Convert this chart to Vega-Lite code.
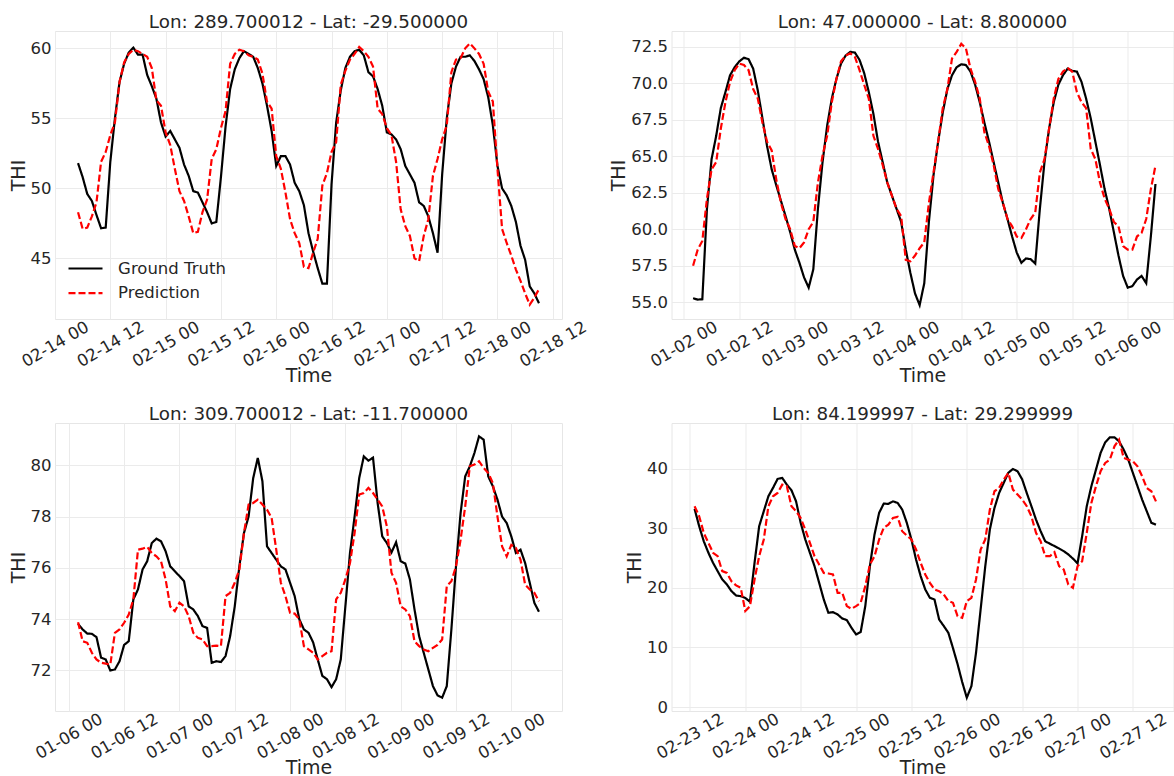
{
"$schema": "https://vega.github.io/schema/vega-lite/v6.json",
"background": "white",
"padding": {"left": 8, "top": 12, "right": 0, "bottom": 0},
"autosize": {"type": "pad"},
"columns": 2,
"spacing": {"row": 104, "column": 109.5},
"bounds": "flush",
"resolve": {"scale": {"color": "independent", "strokeDash": "independent", "x": "independent", "y": "independent"}, "legend": {"color": "independent", "strokeDash": "independent"}},
"datasets": {
"p1": [
{"t":"2020-02-14T05:00","Ground Truth":51.8,"Prediction":48.3},
{"t":"2020-02-14T06:00","Ground Truth":50.8,"Prediction":47.1},
{"t":"2020-02-14T07:00","Ground Truth":49.6,"Prediction":47.2},
{"t":"2020-02-14T08:00","Ground Truth":49.1,"Prediction":48.0},
{"t":"2020-02-14T09:00","Ground Truth":48.1,"Prediction":49.0},
{"t":"2020-02-14T10:00","Ground Truth":47.15,"Prediction":51.9},
{"t":"2020-02-14T11:00","Ground Truth":47.2,"Prediction":52.6},
{"t":"2020-02-14T12:00","Ground Truth":51.9,"Prediction":53.8},
{"t":"2020-02-14T13:00","Ground Truth":55.0,"Prediction":54.7},
{"t":"2020-02-14T14:00","Ground Truth":57.6,"Prediction":57.6},
{"t":"2020-02-14T15:00","Ground Truth":58.9,"Prediction":59.0},
{"t":"2020-02-14T16:00","Ground Truth":59.7,"Prediction":59.6},
{"t":"2020-02-14T17:00","Ground Truth":60.05,"Prediction":59.9},
{"t":"2020-02-14T18:00","Ground Truth":59.55,"Prediction":59.8},
{"t":"2020-02-14T19:00","Ground Truth":59.55,"Prediction":59.6},
{"t":"2020-02-14T20:00","Ground Truth":58.1,"Prediction":59.4},
{"t":"2020-02-14T21:00","Ground Truth":57.3,"Prediction":58.6},
{"t":"2020-02-14T22:00","Ground Truth":56.4,"Prediction":56.3},
{"t":"2020-02-14T23:00","Ground Truth":54.7,"Prediction":55.9},
{"t":"2020-02-15T00:00","Ground Truth":53.7,"Prediction":54.0},
{"t":"2020-02-15T01:00","Ground Truth":54.1,"Prediction":53.1},
{"t":"2020-02-15T02:00","Ground Truth":53.5,"Prediction":51.4},
{"t":"2020-02-15T03:00","Ground Truth":52.9,"Prediction":49.8},
{"t":"2020-02-15T04:00","Ground Truth":51.7,"Prediction":49.1},
{"t":"2020-02-15T05:00","Ground Truth":50.9,"Prediction":48.0},
{"t":"2020-02-15T06:00","Ground Truth":49.8,"Prediction":46.8},
{"t":"2020-02-15T07:00","Ground Truth":49.7,"Prediction":46.9},
{"t":"2020-02-15T08:00","Ground Truth":49.0,"Prediction":48.3},
{"t":"2020-02-15T09:00","Ground Truth":48.3,"Prediction":49.2},
{"t":"2020-02-15T10:00","Ground Truth":47.5,"Prediction":52.1},
{"t":"2020-02-15T11:00","Ground Truth":47.6,"Prediction":52.8},
{"t":"2020-02-15T12:00","Ground Truth":50.8,"Prediction":54.3},
{"t":"2020-02-15T13:00","Ground Truth":54.4,"Prediction":55.5},
{"t":"2020-02-15T14:00","Ground Truth":57.1,"Prediction":58.9},
{"t":"2020-02-15T15:00","Ground Truth":58.5,"Prediction":59.6},
{"t":"2020-02-15T16:00","Ground Truth":59.3,"Prediction":59.9},
{"t":"2020-02-15T17:00","Ground Truth":59.8,"Prediction":59.8},
{"t":"2020-02-15T18:00","Ground Truth":59.6,"Prediction":59.5},
{"t":"2020-02-15T19:00","Ground Truth":59.4,"Prediction":59.4},
{"t":"2020-02-15T20:00","Ground Truth":58.6,"Prediction":59.2},
{"t":"2020-02-15T21:00","Ground Truth":57.5,"Prediction":58.2},
{"t":"2020-02-15T22:00","Ground Truth":55.9,"Prediction":56.2},
{"t":"2020-02-15T23:00","Ground Truth":54.1,"Prediction":55.7},
{"t":"2020-02-16T00:00","Ground Truth":51.6,"Prediction":52.3},
{"t":"2020-02-16T01:00","Ground Truth":52.3,"Prediction":51.4},
{"t":"2020-02-16T02:00","Ground Truth":52.3,"Prediction":49.7},
{"t":"2020-02-16T03:00","Ground Truth":51.7,"Prediction":47.8},
{"t":"2020-02-16T04:00","Ground Truth":50.4,"Prediction":46.8},
{"t":"2020-02-16T05:00","Ground Truth":49.8,"Prediction":46.1},
{"t":"2020-02-16T06:00","Ground Truth":48.8,"Prediction":44.4},
{"t":"2020-02-16T07:00","Ground Truth":46.8,"Prediction":44.3},
{"t":"2020-02-16T08:00","Ground Truth":45.5,"Prediction":45.4},
{"t":"2020-02-16T09:00","Ground Truth":44.3,"Prediction":46.4},
{"t":"2020-02-16T10:00","Ground Truth":43.2,"Prediction":50.2},
{"t":"2020-02-16T11:00","Ground Truth":43.2,"Prediction":51.1},
{"t":"2020-02-16T12:00","Ground Truth":50.3,"Prediction":52.6},
{"t":"2020-02-16T13:00","Ground Truth":54.7,"Prediction":53.3},
{"t":"2020-02-16T14:00","Ground Truth":57.0,"Prediction":57.4},
{"t":"2020-02-16T15:00","Ground Truth":58.6,"Prediction":58.4},
{"t":"2020-02-16T16:00","Ground Truth":59.4,"Prediction":59.2},
{"t":"2020-02-16T17:00","Ground Truth":59.8,"Prediction":59.6},
{"t":"2020-02-16T18:00","Ground Truth":59.9,"Prediction":60.1},
{"t":"2020-02-16T19:00","Ground Truth":59.5,"Prediction":59.8},
{"t":"2020-02-16T20:00","Ground Truth":58.3,"Prediction":59.4},
{"t":"2020-02-16T21:00","Ground Truth":58.0,"Prediction":58.7},
{"t":"2020-02-16T22:00","Ground Truth":57.1,"Prediction":55.7},
{"t":"2020-02-16T23:00","Ground Truth":55.9,"Prediction":55.3},
{"t":"2020-02-17T00:00","Ground Truth":54.0,"Prediction":54.3},
{"t":"2020-02-17T01:00","Ground Truth":53.85,"Prediction":53.8},
{"t":"2020-02-17T02:00","Ground Truth":53.5,"Prediction":51.9},
{"t":"2020-02-17T03:00","Ground Truth":52.8,"Prediction":48.5},
{"t":"2020-02-17T04:00","Ground Truth":51.6,"Prediction":47.3},
{"t":"2020-02-17T05:00","Ground Truth":51.0,"Prediction":46.6},
{"t":"2020-02-17T06:00","Ground Truth":50.4,"Prediction":45.0},
{"t":"2020-02-17T07:00","Ground Truth":49.0,"Prediction":44.8},
{"t":"2020-02-17T08:00","Ground Truth":48.75,"Prediction":46.6},
{"t":"2020-02-17T09:00","Ground Truth":48.0,"Prediction":47.8},
{"t":"2020-02-17T10:00","Ground Truth":46.8,"Prediction":50.9},
{"t":"2020-02-17T11:00","Ground Truth":45.4,"Prediction":52.1},
{"t":"2020-02-17T12:00","Ground Truth":51.0,"Prediction":53.5},
{"t":"2020-02-17T13:00","Ground Truth":55.0,"Prediction":54.5},
{"t":"2020-02-17T14:00","Ground Truth":57.5,"Prediction":58.3},
{"t":"2020-02-17T15:00","Ground Truth":58.7,"Prediction":59.2},
{"t":"2020-02-17T16:00","Ground Truth":59.4,"Prediction":59.3},
{"t":"2020-02-17T17:00","Ground Truth":59.4,"Prediction":60.0},
{"t":"2020-02-17T18:00","Ground Truth":59.5,"Prediction":60.35},
{"t":"2020-02-17T19:00","Ground Truth":59.1,"Prediction":60.0},
{"t":"2020-02-17T20:00","Ground Truth":58.5,"Prediction":59.6},
{"t":"2020-02-17T21:00","Ground Truth":57.8,"Prediction":58.9},
{"t":"2020-02-17T22:00","Ground Truth":56.5,"Prediction":56.9},
{"t":"2020-02-17T23:00","Ground Truth":54.5,"Prediction":56.2},
{"t":"2020-02-18T00:00","Ground Truth":51.6,"Prediction":51.4},
{"t":"2020-02-18T01:00","Ground Truth":50.0,"Prediction":47.1},
{"t":"2020-02-18T02:00","Ground Truth":49.5,"Prediction":46.1},
{"t":"2020-02-18T03:00","Ground Truth":48.75,"Prediction":45.2},
{"t":"2020-02-18T04:00","Ground Truth":47.6,"Prediction":44.2},
{"t":"2020-02-18T05:00","Ground Truth":45.9,"Prediction":43.4},
{"t":"2020-02-18T06:00","Ground Truth":44.9,"Prediction":42.5},
{"t":"2020-02-18T07:00","Ground Truth":43.0,"Prediction":41.7},
{"t":"2020-02-18T08:00","Ground Truth":42.5,"Prediction":42.2},
{"t":"2020-02-18T09:00","Ground Truth":41.8,"Prediction":42.8}
],
"p2": [
{"t":"2020-01-02T02:00","Ground Truth":55.27,"Prediction":57.5},
{"t":"2020-01-02T03:00","Ground Truth":55.18,"Prediction":58.6},
{"t":"2020-01-02T04:00","Ground Truth":55.2,"Prediction":59.2},
{"t":"2020-01-02T05:00","Ground Truth":61.4,"Prediction":62.1},
{"t":"2020-01-02T06:00","Ground Truth":64.8,"Prediction":64.1},
{"t":"2020-01-02T07:00","Ground Truth":66.4,"Prediction":64.6},
{"t":"2020-01-02T08:00","Ground Truth":68.3,"Prediction":66.9},
{"t":"2020-01-02T09:00","Ground Truth":69.4,"Prediction":68.7},
{"t":"2020-01-02T10:00","Ground Truth":70.55,"Prediction":70.1},
{"t":"2020-01-02T11:00","Ground Truth":71.1,"Prediction":70.9},
{"t":"2020-01-02T12:00","Ground Truth":71.5,"Prediction":71.35},
{"t":"2020-01-02T13:00","Ground Truth":71.75,"Prediction":71.25},
{"t":"2020-01-02T14:00","Ground Truth":71.65,"Prediction":70.9},
{"t":"2020-01-02T15:00","Ground Truth":71.0,"Prediction":69.6},
{"t":"2020-01-02T16:00","Ground Truth":69.5,"Prediction":68.95},
{"t":"2020-01-02T17:00","Ground Truth":67.6,"Prediction":67.3},
{"t":"2020-01-02T18:00","Ground Truth":65.7,"Prediction":66.0},
{"t":"2020-01-02T19:00","Ground Truth":64.1,"Prediction":65.4},
{"t":"2020-01-02T20:00","Ground Truth":63.0,"Prediction":63.4},
{"t":"2020-01-02T21:00","Ground Truth":61.95,"Prediction":61.8},
{"t":"2020-01-02T22:00","Ground Truth":60.9,"Prediction":60.7},
{"t":"2020-01-02T23:00","Ground Truth":59.8,"Prediction":60.0},
{"t":"2020-01-03T00:00","Ground Truth":58.6,"Prediction":58.85},
{"t":"2020-01-03T01:00","Ground Truth":57.7,"Prediction":58.7},
{"t":"2020-01-03T02:00","Ground Truth":56.7,"Prediction":59.1},
{"t":"2020-01-03T03:00","Ground Truth":56.0,"Prediction":60.0},
{"t":"2020-01-03T04:00","Ground Truth":57.25,"Prediction":60.5},
{"t":"2020-01-03T05:00","Ground Truth":61.4,"Prediction":63.2},
{"t":"2020-01-03T06:00","Ground Truth":64.6,"Prediction":65.05},
{"t":"2020-01-03T07:00","Ground Truth":67.1,"Prediction":66.4},
{"t":"2020-01-03T08:00","Ground Truth":68.95,"Prediction":68.7},
{"t":"2020-01-03T09:00","Ground Truth":70.3,"Prediction":70.3},
{"t":"2020-01-03T10:00","Ground Truth":71.35,"Prediction":71.5},
{"t":"2020-01-03T11:00","Ground Truth":71.9,"Prediction":71.9},
{"t":"2020-01-03T12:00","Ground Truth":72.15,"Prediction":72.05},
{"t":"2020-01-03T13:00","Ground Truth":72.1,"Prediction":71.8},
{"t":"2020-01-03T14:00","Ground Truth":71.6,"Prediction":70.9},
{"t":"2020-01-03T15:00","Ground Truth":70.7,"Prediction":69.9},
{"t":"2020-01-03T16:00","Ground Truth":69.4,"Prediction":68.95},
{"t":"2020-01-03T17:00","Ground Truth":67.9,"Prediction":66.4},
{"t":"2020-01-03T18:00","Ground Truth":66.0,"Prediction":65.5},
{"t":"2020-01-03T19:00","Ground Truth":64.6,"Prediction":64.4},
{"t":"2020-01-03T20:00","Ground Truth":63.2,"Prediction":63.2},
{"t":"2020-01-03T21:00","Ground Truth":62.3,"Prediction":62.3},
{"t":"2020-01-03T22:00","Ground Truth":61.4,"Prediction":61.4},
{"t":"2020-01-03T23:00","Ground Truth":60.5,"Prediction":60.9},
{"t":"2020-01-04T00:00","Ground Truth":58.6,"Prediction":57.9},
{"t":"2020-01-04T01:00","Ground Truth":57.0,"Prediction":57.8},
{"t":"2020-01-04T02:00","Ground Truth":55.6,"Prediction":58.2},
{"t":"2020-01-04T03:00","Ground Truth":54.8,"Prediction":58.7},
{"t":"2020-01-04T04:00","Ground Truth":56.3,"Prediction":59.1},
{"t":"2020-01-04T05:00","Ground Truth":60.5,"Prediction":61.8},
{"t":"2020-01-04T06:00","Ground Truth":63.7,"Prediction":63.9},
{"t":"2020-01-04T07:00","Ground Truth":66.0,"Prediction":66.0},
{"t":"2020-01-04T08:00","Ground Truth":68.0,"Prediction":68.3},
{"t":"2020-01-04T09:00","Ground Truth":69.6,"Prediction":69.6},
{"t":"2020-01-04T10:00","Ground Truth":70.55,"Prediction":71.7},
{"t":"2020-01-04T11:00","Ground Truth":71.1,"Prediction":72.15},
{"t":"2020-01-04T12:00","Ground Truth":71.3,"Prediction":72.7},
{"t":"2020-01-04T13:00","Ground Truth":71.25,"Prediction":72.4},
{"t":"2020-01-04T14:00","Ground Truth":70.8,"Prediction":71.0},
{"t":"2020-01-04T15:00","Ground Truth":69.9,"Prediction":70.1},
{"t":"2020-01-04T16:00","Ground Truth":68.7,"Prediction":68.95},
{"t":"2020-01-04T17:00","Ground Truth":67.3,"Prediction":66.65},
{"t":"2020-01-04T18:00","Ground Truth":66.0,"Prediction":65.7},
{"t":"2020-01-04T19:00","Ground Truth":64.6,"Prediction":64.4},
{"t":"2020-01-04T20:00","Ground Truth":63.2,"Prediction":62.75},
{"t":"2020-01-04T21:00","Ground Truth":61.8,"Prediction":61.8},
{"t":"2020-01-04T22:00","Ground Truth":60.7,"Prediction":60.7},
{"t":"2020-01-04T23:00","Ground Truth":59.5,"Prediction":60.2},
{"t":"2020-01-05T00:00","Ground Truth":58.4,"Prediction":59.5},
{"t":"2020-01-05T01:00","Ground Truth":57.7,"Prediction":59.4},
{"t":"2020-01-05T02:00","Ground Truth":58.0,"Prediction":60.0},
{"t":"2020-01-05T03:00","Ground Truth":57.95,"Prediction":60.7},
{"t":"2020-01-05T04:00","Ground Truth":57.65,"Prediction":61.15},
{"t":"2020-01-05T05:00","Ground Truth":61.4,"Prediction":63.9},
{"t":"2020-01-05T06:00","Ground Truth":64.6,"Prediction":64.8},
{"t":"2020-01-05T07:00","Ground Truth":66.9,"Prediction":66.9},
{"t":"2020-01-05T08:00","Ground Truth":68.7,"Prediction":68.95},
{"t":"2020-01-05T09:00","Ground Truth":69.9,"Prediction":70.3},
{"t":"2020-01-05T10:00","Ground Truth":70.55,"Prediction":70.8},
{"t":"2020-01-05T11:00","Ground Truth":71.0,"Prediction":71.05},
{"t":"2020-01-05T12:00","Ground Truth":70.85,"Prediction":70.8},
{"t":"2020-01-05T13:00","Ground Truth":70.8,"Prediction":69.4},
{"t":"2020-01-05T14:00","Ground Truth":70.1,"Prediction":68.7},
{"t":"2020-01-05T15:00","Ground Truth":68.95,"Prediction":68.3},
{"t":"2020-01-05T16:00","Ground Truth":67.6,"Prediction":65.5},
{"t":"2020-01-05T17:00","Ground Truth":66.0,"Prediction":64.8},
{"t":"2020-01-05T18:00","Ground Truth":64.4,"Prediction":63.2},
{"t":"2020-01-05T19:00","Ground Truth":62.75,"Prediction":62.1},
{"t":"2020-01-05T20:00","Ground Truth":61.4,"Prediction":61.4},
{"t":"2020-01-05T21:00","Ground Truth":59.8,"Prediction":60.5},
{"t":"2020-01-05T22:00","Ground Truth":58.2,"Prediction":60.2},
{"t":"2020-01-05T23:00","Ground Truth":56.8,"Prediction":58.85},
{"t":"2020-01-06T00:00","Ground Truth":56.0,"Prediction":58.6},
{"t":"2020-01-06T01:00","Ground Truth":56.1,"Prediction":58.6},
{"t":"2020-01-06T02:00","Ground Truth":56.55,"Prediction":59.5},
{"t":"2020-01-06T03:00","Ground Truth":56.8,"Prediction":59.75},
{"t":"2020-01-06T04:00","Ground Truth":56.3,"Prediction":60.7},
{"t":"2020-01-06T05:00","Ground Truth":59.5,"Prediction":62.75},
{"t":"2020-01-06T06:00","Ground Truth":63.1,"Prediction":64.35}
],
"p3": [
{"t":"2020-01-06T02:00","Ground Truth":73.82,"Prediction":73.88},
{"t":"2020-01-06T03:00","Ground Truth":73.6,"Prediction":73.14},
{"t":"2020-01-06T04:00","Ground Truth":73.44,"Prediction":73.08},
{"t":"2020-01-06T05:00","Ground Truth":73.43,"Prediction":72.69},
{"t":"2020-01-06T06:00","Ground Truth":73.3,"Prediction":72.43},
{"t":"2020-01-06T07:00","Ground Truth":72.5,"Prediction":72.3},
{"t":"2020-01-06T08:00","Ground Truth":72.43,"Prediction":72.27},
{"t":"2020-01-06T09:00","Ground Truth":72.0,"Prediction":72.23},
{"t":"2020-01-06T10:00","Ground Truth":72.04,"Prediction":73.47},
{"t":"2020-01-06T11:00","Ground Truth":72.36,"Prediction":73.6},
{"t":"2020-01-06T12:00","Ground Truth":73.0,"Prediction":73.86},
{"t":"2020-01-06T13:00","Ground Truth":73.14,"Prediction":74.18},
{"t":"2020-01-06T14:00","Ground Truth":74.77,"Prediction":74.77},
{"t":"2020-01-06T15:00","Ground Truth":75.16,"Prediction":76.71},
{"t":"2020-01-06T16:00","Ground Truth":75.94,"Prediction":76.75},
{"t":"2020-01-06T17:00","Ground Truth":76.26,"Prediction":76.82},
{"t":"2020-01-06T18:00","Ground Truth":76.97,"Prediction":76.58},
{"t":"2020-01-06T19:00","Ground Truth":77.14,"Prediction":76.45},
{"t":"2020-01-06T20:00","Ground Truth":77.04,"Prediction":76.26},
{"t":"2020-01-06T21:00","Ground Truth":76.65,"Prediction":75.55},
{"t":"2020-01-06T22:00","Ground Truth":76.06,"Prediction":74.5},
{"t":"2020-01-06T23:00","Ground Truth":75.87,"Prediction":74.31},
{"t":"2020-01-07T00:00","Ground Truth":75.68,"Prediction":74.64},
{"t":"2020-01-07T01:00","Ground Truth":75.48,"Prediction":74.5},
{"t":"2020-01-07T02:00","Ground Truth":74.5,"Prediction":74.12},
{"t":"2020-01-07T03:00","Ground Truth":74.38,"Prediction":73.47},
{"t":"2020-01-07T04:00","Ground Truth":74.12,"Prediction":73.27},
{"t":"2020-01-07T05:00","Ground Truth":73.73,"Prediction":73.21},
{"t":"2020-01-07T06:00","Ground Truth":73.66,"Prediction":72.95},
{"t":"2020-01-07T07:00","Ground Truth":72.3,"Prediction":72.95},
{"t":"2020-01-07T08:00","Ground Truth":72.36,"Prediction":72.97},
{"t":"2020-01-07T09:00","Ground Truth":72.33,"Prediction":72.95},
{"t":"2020-01-07T10:00","Ground Truth":72.56,"Prediction":74.9},
{"t":"2020-01-07T11:00","Ground Truth":73.34,"Prediction":75.03},
{"t":"2020-01-07T12:00","Ground Truth":74.5,"Prediction":75.42},
{"t":"2020-01-07T13:00","Ground Truth":76.06,"Prediction":75.94},
{"t":"2020-01-07T14:00","Ground Truth":77.36,"Prediction":77.36},
{"t":"2020-01-07T15:00","Ground Truth":78.0,"Prediction":78.47},
{"t":"2020-01-07T16:00","Ground Truth":79.5,"Prediction":78.53},
{"t":"2020-01-07T17:00","Ground Truth":80.29,"Prediction":78.66},
{"t":"2020-01-07T18:00","Ground Truth":79.38,"Prediction":78.47},
{"t":"2020-01-07T19:00","Ground Truth":76.84,"Prediction":78.27},
{"t":"2020-01-07T20:00","Ground Truth":76.58,"Prediction":77.95},
{"t":"2020-01-07T21:00","Ground Truth":76.32,"Prediction":76.71},
{"t":"2020-01-07T22:00","Ground Truth":76.06,"Prediction":75.42},
{"t":"2020-01-07T23:00","Ground Truth":75.94,"Prediction":74.9},
{"t":"2020-01-08T00:00","Ground Truth":75.42,"Prediction":74.25},
{"t":"2020-01-08T01:00","Ground Truth":74.9,"Prediction":74.22},
{"t":"2020-01-08T02:00","Ground Truth":74.0,"Prediction":74.0},
{"t":"2020-01-08T03:00","Ground Truth":73.6,"Prediction":72.95},
{"t":"2020-01-08T04:00","Ground Truth":73.47,"Prediction":72.82},
{"t":"2020-01-08T05:00","Ground Truth":73.1,"Prediction":72.69},
{"t":"2020-01-08T06:00","Ground Truth":72.43,"Prediction":72.43},
{"t":"2020-01-08T07:00","Ground Truth":71.79,"Prediction":72.56},
{"t":"2020-01-08T08:00","Ground Truth":71.66,"Prediction":72.69},
{"t":"2020-01-08T09:00","Ground Truth":71.35,"Prediction":72.75},
{"t":"2020-01-08T10:00","Ground Truth":71.66,"Prediction":74.77},
{"t":"2020-01-08T11:00","Ground Truth":72.43,"Prediction":75.03},
{"t":"2020-01-08T12:00","Ground Truth":74.5,"Prediction":75.55},
{"t":"2020-01-08T13:00","Ground Truth":76.58,"Prediction":76.19},
{"t":"2020-01-08T14:00","Ground Truth":78.0,"Prediction":77.36},
{"t":"2020-01-08T15:00","Ground Truth":79.5,"Prediction":78.86},
{"t":"2020-01-08T16:00","Ground Truth":80.35,"Prediction":78.92},
{"t":"2020-01-08T17:00","Ground Truth":80.18,"Prediction":79.12},
{"t":"2020-01-08T18:00","Ground Truth":80.3,"Prediction":78.92},
{"t":"2020-01-08T19:00","Ground Truth":78.53,"Prediction":78.66},
{"t":"2020-01-08T20:00","Ground Truth":77.23,"Prediction":78.4},
{"t":"2020-01-08T21:00","Ground Truth":76.97,"Prediction":77.62},
{"t":"2020-01-08T22:00","Ground Truth":76.6,"Prediction":75.81},
{"t":"2020-01-08T23:00","Ground Truth":77.0,"Prediction":75.42},
{"t":"2020-01-09T00:00","Ground Truth":76.26,"Prediction":74.5},
{"t":"2020-01-09T01:00","Ground Truth":76.17,"Prediction":74.38},
{"t":"2020-01-09T02:00","Ground Truth":75.55,"Prediction":74.12},
{"t":"2020-01-09T03:00","Ground Truth":74.38,"Prediction":73.14},
{"t":"2020-01-09T04:00","Ground Truth":73.34,"Prediction":72.95},
{"t":"2020-01-09T05:00","Ground Truth":72.69,"Prediction":72.82},
{"t":"2020-01-09T06:00","Ground Truth":72.04,"Prediction":72.75},
{"t":"2020-01-09T07:00","Ground Truth":71.39,"Prediction":72.88},
{"t":"2020-01-09T08:00","Ground Truth":71.03,"Prediction":73.0},
{"t":"2020-01-09T09:00","Ground Truth":70.94,"Prediction":73.21},
{"t":"2020-01-09T10:00","Ground Truth":71.39,"Prediction":75.29},
{"t":"2020-01-09T11:00","Ground Truth":73.6,"Prediction":75.48},
{"t":"2020-01-09T12:00","Ground Truth":76.06,"Prediction":76.06},
{"t":"2020-01-09T13:00","Ground Truth":78.14,"Prediction":77.1},
{"t":"2020-01-09T14:00","Ground Truth":79.57,"Prediction":78.4},
{"t":"2020-01-09T15:00","Ground Truth":79.96,"Prediction":79.96},
{"t":"2020-01-09T16:00","Ground Truth":80.48,"Prediction":80.03},
{"t":"2020-01-09T17:00","Ground Truth":81.13,"Prediction":80.16},
{"t":"2020-01-09T18:00","Ground Truth":81.0,"Prediction":79.9},
{"t":"2020-01-09T19:00","Ground Truth":79.57,"Prediction":79.7},
{"t":"2020-01-09T20:00","Ground Truth":79.18,"Prediction":79.31},
{"t":"2020-01-09T21:00","Ground Truth":78.66,"Prediction":78.0},
{"t":"2020-01-09T22:00","Ground Truth":78.0,"Prediction":76.84},
{"t":"2020-01-09T23:00","Ground Truth":77.75,"Prediction":76.45},
{"t":"2020-01-10T00:00","Ground Truth":77.23,"Prediction":76.9},
{"t":"2020-01-10T01:00","Ground Truth":76.58,"Prediction":76.78},
{"t":"2020-01-10T02:00","Ground Truth":76.71,"Prediction":76.32},
{"t":"2020-01-10T03:00","Ground Truth":76.19,"Prediction":75.35},
{"t":"2020-01-10T04:00","Ground Truth":75.42,"Prediction":75.16},
{"t":"2020-01-10T05:00","Ground Truth":74.64,"Prediction":75.03},
{"t":"2020-01-10T06:00","Ground Truth":74.29,"Prediction":74.7}
],
"p4": [
{"t":"2020-02-23T13:00","Ground Truth":33.24,"Prediction":33.69},
{"t":"2020-02-23T14:00","Ground Truth":30.33,"Prediction":32.0},
{"t":"2020-02-23T15:00","Ground Truth":27.8,"Prediction":29.2},
{"t":"2020-02-23T16:00","Ground Truth":25.87,"Prediction":27.54},
{"t":"2020-02-23T17:00","Ground Truth":24.19,"Prediction":25.87},
{"t":"2020-02-23T18:00","Ground Truth":22.79,"Prediction":25.3},
{"t":"2020-02-23T19:00","Ground Truth":21.4,"Prediction":22.8},
{"t":"2020-02-23T20:00","Ground Truth":20.56,"Prediction":22.5},
{"t":"2020-02-23T21:00","Ground Truth":19.44,"Prediction":21.1},
{"t":"2020-02-23T22:00","Ground Truth":18.7,"Prediction":20.4},
{"t":"2020-02-23T23:00","Ground Truth":18.6,"Prediction":20.0},
{"t":"2020-02-24T00:00","Ground Truth":18.3,"Prediction":16.1},
{"t":"2020-02-24T01:00","Ground Truth":17.65,"Prediction":16.9},
{"t":"2020-02-24T02:00","Ground Truth":24.19,"Prediction":21.4},
{"t":"2020-02-24T03:00","Ground Truth":30.33,"Prediction":25.3},
{"t":"2020-02-24T04:00","Ground Truth":32.85,"Prediction":28.1},
{"t":"2020-02-24T05:00","Ground Truth":35.36,"Prediction":33.69},
{"t":"2020-02-24T06:00","Ground Truth":36.76,"Prediction":35.36},
{"t":"2020-02-24T07:00","Ground Truth":38.27,"Prediction":35.92},
{"t":"2020-02-24T08:00","Ground Truth":38.44,"Prediction":37.3},
{"t":"2020-02-24T09:00","Ground Truth":37.3,"Prediction":37.04},
{"t":"2020-02-24T10:00","Ground Truth":36.37,"Prediction":33.69},
{"t":"2020-02-24T11:00","Ground Truth":34.5,"Prediction":32.85},
{"t":"2020-02-24T12:00","Ground Truth":30.9,"Prediction":31.7},
{"t":"2020-02-24T13:00","Ground Truth":28.1,"Prediction":29.78},
{"t":"2020-02-24T14:00","Ground Truth":25.87,"Prediction":27.54},
{"t":"2020-02-24T15:00","Ground Truth":23.63,"Prediction":25.3},
{"t":"2020-02-24T16:00","Ground Truth":20.84,"Prediction":23.9},
{"t":"2020-02-24T17:00","Ground Truth":18.04,"Prediction":22.5},
{"t":"2020-02-24T18:00","Ground Truth":15.81,"Prediction":22.4},
{"t":"2020-02-24T19:00","Ground Truth":15.92,"Prediction":22.23},
{"t":"2020-02-24T20:00","Ground Truth":15.53,"Prediction":19.16},
{"t":"2020-02-24T21:00","Ground Truth":14.86,"Prediction":19.16},
{"t":"2020-02-24T22:00","Ground Truth":14.58,"Prediction":16.93},
{"t":"2020-02-24T23:00","Ground Truth":13.3,"Prediction":16.48},
{"t":"2020-02-25T00:00","Ground Truth":12.18,"Prediction":16.93},
{"t":"2020-02-25T01:00","Ground Truth":12.57,"Prediction":17.49},
{"t":"2020-02-25T02:00","Ground Truth":16.93,"Prediction":20.28},
{"t":"2020-02-25T03:00","Ground Truth":23.63,"Prediction":23.91},
{"t":"2020-02-25T04:00","Ground Truth":28.94,"Prediction":25.3},
{"t":"2020-02-25T05:00","Ground Truth":32.57,"Prediction":28.1},
{"t":"2020-02-25T06:00","Ground Truth":34.13,"Prediction":30.06},
{"t":"2020-02-25T07:00","Ground Truth":34.08,"Prediction":30.6},
{"t":"2020-02-25T08:00","Ground Truth":34.5,"Prediction":31.73},
{"t":"2020-02-25T09:00","Ground Truth":34.25,"Prediction":31.9},
{"t":"2020-02-25T10:00","Ground Truth":33.13,"Prediction":29.5},
{"t":"2020-02-25T11:00","Ground Truth":30.9,"Prediction":28.77},
{"t":"2020-02-25T12:00","Ground Truth":28.1,"Prediction":28.1},
{"t":"2020-02-25T13:00","Ground Truth":24.75,"Prediction":26.42},
{"t":"2020-02-25T14:00","Ground Truth":21.96,"Prediction":24.19},
{"t":"2020-02-25T15:00","Ground Truth":19.72,"Prediction":22.23},
{"t":"2020-02-25T16:00","Ground Truth":18.32,"Prediction":20.84},
{"t":"2020-02-25T17:00","Ground Truth":18.04,"Prediction":19.72},
{"t":"2020-02-25T18:00","Ground Truth":14.69,"Prediction":19.44},
{"t":"2020-02-25T19:00","Ground Truth":13.6,"Prediction":18.88},
{"t":"2020-02-25T20:00","Ground Truth":12.46,"Prediction":17.77},
{"t":"2020-02-25T21:00","Ground Truth":9.9,"Prediction":17.49},
{"t":"2020-02-25T22:00","Ground Truth":7.2,"Prediction":15.25},
{"t":"2020-02-25T23:00","Ground Truth":4.2,"Prediction":14.97},
{"t":"2020-02-26T00:00","Ground Truth":1.56,"Prediction":17.77},
{"t":"2020-02-26T01:00","Ground Truth":3.5,"Prediction":18.32},
{"t":"2020-02-26T02:00","Ground Truth":9.1,"Prediction":21.4},
{"t":"2020-02-26T03:00","Ground Truth":16.4,"Prediction":26.42},
{"t":"2020-02-26T04:00","Ground Truth":23.6,"Prediction":28.1},
{"t":"2020-02-26T05:00","Ground Truth":29.8,"Prediction":33.13},
{"t":"2020-02-26T06:00","Ground Truth":33.4,"Prediction":36.2},
{"t":"2020-02-26T07:00","Ground Truth":35.9,"Prediction":36.76},
{"t":"2020-02-26T08:00","Ground Truth":37.6,"Prediction":38.16},
{"t":"2020-02-26T09:00","Ground Truth":39.3,"Prediction":39.27},
{"t":"2020-02-26T10:00","Ground Truth":39.94,"Prediction":36.48},
{"t":"2020-02-26T11:00","Ground Truth":39.55,"Prediction":35.64},
{"t":"2020-02-26T12:00","Ground Truth":38.2,"Prediction":34.8},
{"t":"2020-02-26T13:00","Ground Truth":35.9,"Prediction":33.69},
{"t":"2020-02-26T14:00","Ground Truth":33.7,"Prediction":32.0},
{"t":"2020-02-26T15:00","Ground Truth":31.45,"Prediction":29.22},
{"t":"2020-02-26T16:00","Ground Truth":29.5,"Prediction":27.82},
{"t":"2020-02-26T17:00","Ground Truth":27.8,"Prediction":25.3},
{"t":"2020-02-26T18:00","Ground Truth":27.4,"Prediction":25.3},
{"t":"2020-02-26T19:00","Ground Truth":27.0,"Prediction":25.98},
{"t":"2020-02-26T20:00","Ground Truth":26.6,"Prediction":23.63},
{"t":"2020-02-26T21:00","Ground Truth":26.15,"Prediction":23.07},
{"t":"2020-02-26T22:00","Ground Truth":25.6,"Prediction":20.56},
{"t":"2020-02-26T23:00","Ground Truth":24.9,"Prediction":20.0},
{"t":"2020-02-27T00:00","Ground Truth":24.1,"Prediction":23.63},
{"t":"2020-02-27T01:00","Ground Truth":28.66,"Prediction":24.47},
{"t":"2020-02-27T02:00","Ground Truth":33.69,"Prediction":29.22},
{"t":"2020-02-27T03:00","Ground Truth":37.04,"Prediction":34.25},
{"t":"2020-02-27T04:00","Ground Truth":39.83,"Prediction":37.04},
{"t":"2020-02-27T05:00","Ground Truth":42.63,"Prediction":39.55},
{"t":"2020-02-27T06:00","Ground Truth":44.41,"Prediction":40.95},
{"t":"2020-02-27T07:00","Ground Truth":45.25,"Prediction":41.51},
{"t":"2020-02-27T08:00","Ground Truth":45.25,"Prediction":43.74},
{"t":"2020-02-27T09:00","Ground Truth":44.58,"Prediction":44.86},
{"t":"2020-02-27T10:00","Ground Truth":43.18,"Prediction":41.79},
{"t":"2020-02-27T11:00","Ground Truth":41.51,"Prediction":41.51},
{"t":"2020-02-27T12:00","Ground Truth":39.27,"Prediction":41.23},
{"t":"2020-02-27T13:00","Ground Truth":37.04,"Prediction":40.39},
{"t":"2020-02-27T14:00","Ground Truth":34.8,"Prediction":38.72},
{"t":"2020-02-27T15:00","Ground Truth":32.85,"Prediction":36.76},
{"t":"2020-02-27T16:00","Ground Truth":30.9,"Prediction":36.2},
{"t":"2020-02-27T17:00","Ground Truth":30.6,"Prediction":34.5}
]
},
"concat": [
{
 "title": "Lon: 289.700012 - Lat: -29.500000",
 "width": 507, "height": 288,
 "data": {"name": "p1"},
 "transform": [{"fold": ["Ground Truth", "Prediction"], "as": ["series", "v"]}],
 "mark": {"type": "line", "strokeWidth": 2.2, "clip": true},
 "encoding": {
  "x": {"field": "t", "type": "temporal", "title": "Time",
   "scale": {"domain": [{"year":2020,"month":2,"date":14,"hours":0},{"year":2020,"month":2,"date":18,"hours":14}]},
   "axis": {"format": "%m-%d %H", "values": [
    {"year":2020,"month":2,"date":14,"hours":0},{"year":2020,"month":2,"date":14,"hours":12},
    {"year":2020,"month":2,"date":15,"hours":0},{"year":2020,"month":2,"date":15,"hours":12},
    {"year":2020,"month":2,"date":16,"hours":0},{"year":2020,"month":2,"date":16,"hours":12},
    {"year":2020,"month":2,"date":17,"hours":0},{"year":2020,"month":2,"date":17,"hours":12},
    {"year":2020,"month":2,"date":18,"hours":0},{"year":2020,"month":2,"date":18,"hours":12}]}},
  "y": {"field": "v", "type": "quantitative", "title": "THI",
   "scale": {"domain": [40.67, 61.24], "nice": false, "zero": false},
   "axis": {"values": [45, 50, 55, 60]}},
  "color": {"field": "series", "type": "nominal",
   "scale": {"domain": ["Ground Truth", "Prediction"], "range": ["#000000", "#ff0000"]},
   "legend": {"title": null, "orient": "bottom-left"}},
  "strokeDash": {"field": "series", "type": "nominal",
   "scale": {"domain": ["Ground Truth", "Prediction"], "range": [[1, 0], [7, 3]]},
   "legend": {"title": null, "orient": "bottom-left"}}
 }
},
{
 "title": "Lon: 47.000000 - Lat: 8.800000",
 "width": 502, "height": 288,
 "data": {"name": "p2"},
 "transform": [{"fold": ["Ground Truth", "Prediction"], "as": ["series", "v"]}],
 "mark": {"type": "line", "strokeWidth": 2.2, "clip": true},
 "encoding": {
  "x": {"field": "t", "type": "temporal", "title": "Time",
   "scale": {"domain": [{"year":2020,"month":1,"date":1,"hours":21,"minutes":20},{"year":2020,"month":1,"date":6,"hours":9,"minutes":54}]},
   "axis": {"format": "%m-%d %H", "values": [
    {"year":2020,"month":1,"date":2,"hours":0},{"year":2020,"month":1,"date":2,"hours":12},
    {"year":2020,"month":1,"date":3,"hours":0},{"year":2020,"month":1,"date":3,"hours":12},
    {"year":2020,"month":1,"date":4,"hours":0},{"year":2020,"month":1,"date":4,"hours":12},
    {"year":2020,"month":1,"date":5,"hours":0},{"year":2020,"month":1,"date":5,"hours":12},
    {"year":2020,"month":1,"date":6,"hours":0}]}},
  "y": {"field": "v", "type": "quantitative", "title": "THI",
   "scale": {"domain": [53.85, 73.58], "nice": false, "zero": false},
   "axis": {"values": [55, 57.5, 60, 62.5, 65, 67.5, 70, 72.5], "format": ".1f"}},
  "color": {"field": "series", "type": "nominal",
   "scale": {"domain": ["Ground Truth", "Prediction"], "range": ["#000000", "#ff0000"]}, "legend": null},
  "strokeDash": {"field": "series", "type": "nominal",
   "scale": {"domain": ["Ground Truth", "Prediction"], "range": [[1, 0], [7, 3]]}, "legend": null}
 }
},
{
 "title": "Lon: 309.700012 - Lat: -11.700000",
 "width": 507, "height": 288,
 "data": {"name": "p3"},
 "transform": [{"fold": ["Ground Truth", "Prediction"], "as": ["series", "v"]}],
 "mark": {"type": "line", "strokeWidth": 2.2, "clip": true},
 "encoding": {
  "x": {"field": "t", "type": "temporal", "title": "Time",
   "scale": {"domain": [{"year":2020,"month":1,"date":5,"hours":21},{"year":2020,"month":1,"date":10,"hours":11}]},
   "axis": {"format": "%m-%d %H", "values": [
    {"year":2020,"month":1,"date":6,"hours":0},{"year":2020,"month":1,"date":6,"hours":12},
    {"year":2020,"month":1,"date":7,"hours":0},{"year":2020,"month":1,"date":7,"hours":12},
    {"year":2020,"month":1,"date":8,"hours":0},{"year":2020,"month":1,"date":8,"hours":12},
    {"year":2020,"month":1,"date":9,"hours":0},{"year":2020,"month":1,"date":9,"hours":12},
    {"year":2020,"month":1,"date":10,"hours":0}]}},
  "y": {"field": "v", "type": "quantitative", "title": "THI",
   "scale": {"domain": [70.42, 81.65], "nice": false, "zero": false},
   "axis": {"values": [72, 74, 76, 78, 80]}},
  "color": {"field": "series", "type": "nominal",
   "scale": {"domain": ["Ground Truth", "Prediction"], "range": ["#000000", "#ff0000"]}, "legend": null},
  "strokeDash": {"field": "series", "type": "nominal",
   "scale": {"domain": ["Ground Truth", "Prediction"], "range": [[1, 0], [7, 3]]}, "legend": null}
 }
},
{
 "title": "Lon: 84.199997 - Lat: 29.299999",
 "width": 502, "height": 288,
 "data": {"name": "p4"},
 "transform": [{"fold": ["Ground Truth", "Prediction"], "as": ["series", "v"]}],
 "mark": {"type": "line", "strokeWidth": 2.2, "clip": true},
 "encoding": {
  "x": {"field": "t", "type": "temporal", "title": "Time",
   "scale": {"domain": [{"year":2020,"month":2,"date":23,"hours":8},{"year":2020,"month":2,"date":27,"hours":20,"minutes":48}]},
   "axis": {"format": "%m-%d %H", "values": [
    {"year":2020,"month":2,"date":23,"hours":12},{"year":2020,"month":2,"date":24,"hours":0},
    {"year":2020,"month":2,"date":24,"hours":12},{"year":2020,"month":2,"date":25,"hours":0},
    {"year":2020,"month":2,"date":25,"hours":12},{"year":2020,"month":2,"date":26,"hours":0},
    {"year":2020,"month":2,"date":26,"hours":12},{"year":2020,"month":2,"date":27,"hours":0},
    {"year":2020,"month":2,"date":27,"hours":12}]}},
  "y": {"field": "v", "type": "quantitative", "title": "THI",
   "scale": {"domain": [-0.67, 47.65], "nice": false, "zero": false},
   "axis": {"values": [0, 10, 20, 30, 40]}},
  "color": {"field": "series", "type": "nominal",
   "scale": {"domain": ["Ground Truth", "Prediction"], "range": ["#000000", "#ff0000"]}, "legend": null},
  "strokeDash": {"field": "series", "type": "nominal",
   "scale": {"domain": ["Ground Truth", "Prediction"], "range": [[1, 0], [7, 3]]}, "legend": null}
 }
}
],
"config": {
 "font": "DejaVu Sans",
 "view": {"stroke": "#e6e6e6", "strokeWidth": 1},
 "axis": {"grid": true, "gridColor": "#ebebeb", "gridWidth": 1, "domain": false, "ticks": false,
  "labelFontSize": 16.5, "labelColor": "#262626", "labelFont": "DejaVu Sans",
  "titleFontSize": 19, "titleColor": "#262626", "titleFontWeight": "normal", "titleFont": "DejaVu Sans",
  "labelFlush": false, "labelOverlap": false, "labelBound": false},
 "axisX": {"labelAngle": -30, "labelAlign": "center", "labelBaseline": "middle", "labelPadding": 25, "titlePadding": -3},
 "axisY": {"labelPadding": 4, "titlePadding": 2},
 "title": {"fontSize": 18.3, "fontWeight": "normal", "color": "#262626", "font": "DejaVu Sans", "offset": -1, "baseline": "alphabetic", "frame": "group"},
 "legend": {"offset": 16.7, "padding": 0, "labelFontSize": 16.5, "labelColor": "#262626", "labelFont": "DejaVu Sans",
  "symbolType": "M-1.5,0H1.9", "symbolSize": 400, "symbolStrokeWidth": 2.2, "labelOffset": 23.1, "rowPadding": 4.6}
}
}
